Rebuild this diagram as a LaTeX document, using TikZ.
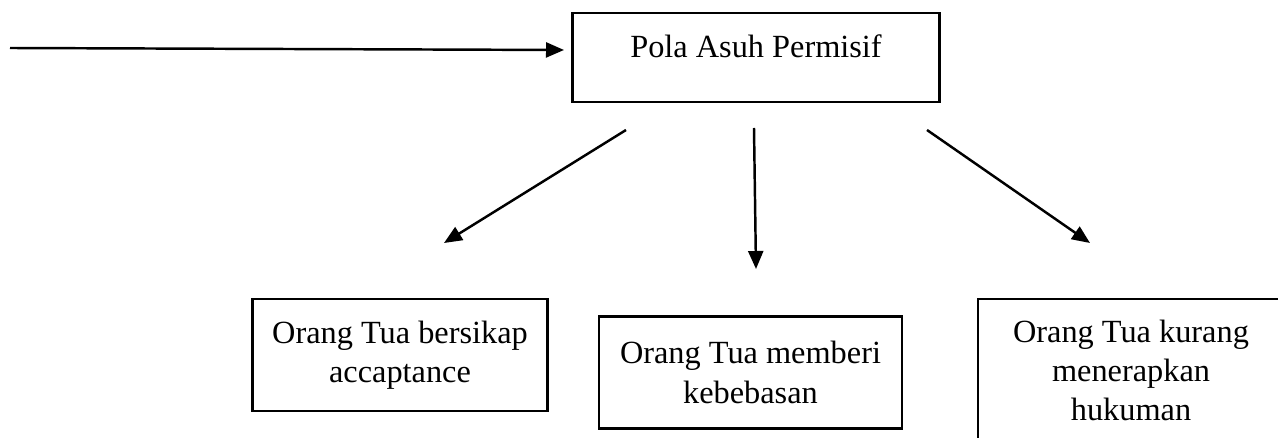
\documentclass[tikz,border=0pt]{standalone}
\usepackage{fontspec}
\setmainfont{Liberation Serif}
\usetikzlibrary{arrows.meta}

\begin{document}
\begin{tikzpicture}[
    x=0.02cm, y=-0.02cm,
    >={Triangle[length=0.36cm,width=0.3cm]},
    line width=1.4pt,
    txt/.style={font=\fontsize{18.4}{22.4}\selectfont, align=center},
    box/.style={txt, draw, line width=1.5pt, inner sep=0pt, minimum height=2.24cm}
]
\useasboundingbox (0,0) rectangle (1278,438);

% === Top: parenting style ===
\node[box, minimum width=7.34cm, minimum height=1.78cm, text depth=0.45cm] (pola) at (756,57.5) {Pola Asuh Permisif};

% === Incoming arrow ===
\coordinate (inL) at (10,48);
\coordinate (inR) at (564,50);
\draw[->] (inL) -- (inR);

% === Bottom row: the three traits ===
\node[box, minimum width=5.9cm] (bersikap) at (400,355) {Orang Tua bersikap\\accaptance};
\node[box, minimum width=6.06cm] (bebas) at (750.5,372.5) {Orang Tua memberi\\kebebasan};
\node[box, minimum width=6.12cm, minimum height=2.86cm] (hukum) at (1131,370.5) {Orang Tua kurang\\menerapkan\\hukuman};

% === Arrows down ===
\coordinate (aS) at (626,130);
\coordinate (aE) at (444,243);
\coordinate (bS) at (754,128);
\coordinate (bE) at (756,269);
\coordinate (cS) at (927,130);
\coordinate (cE) at (1090,243);
\draw[->] (aS) -- (aE);
\draw[->] (bS) -- (bE);
\draw[->] (cS) -- (cE);
\end{tikzpicture}
\end{document}
